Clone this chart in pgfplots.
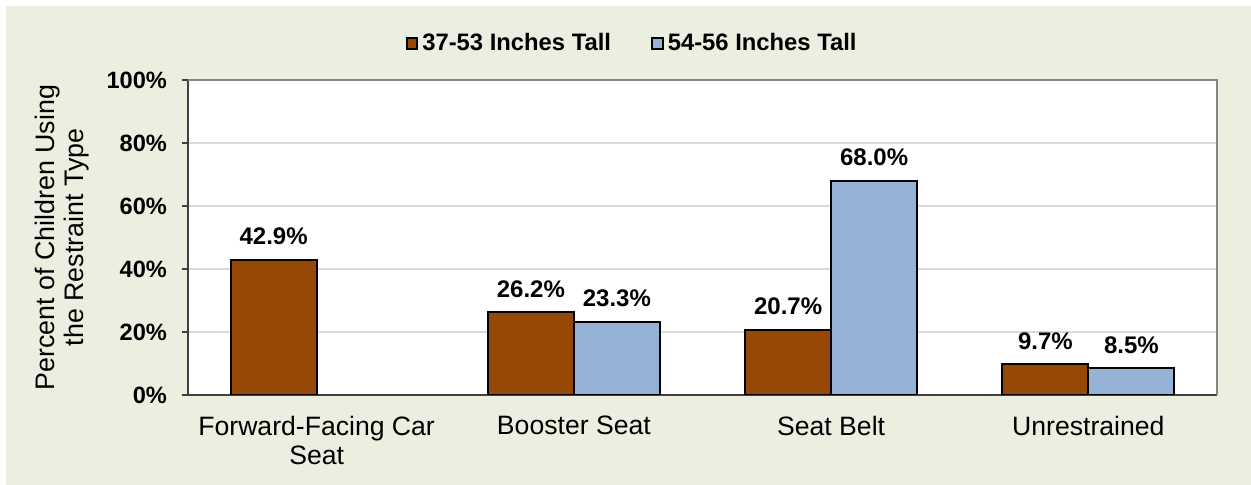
\documentclass[border=0pt]{standalone}
\usepackage{pgfplots}
\pgfplotsset{compat=1.18}
\usepackage{fontspec}
\setmainfont{Liberation Sans}
\definecolor{bgc}{HTML}{ECEEDF}
\definecolor{brownbar}{HTML}{974706}
\definecolor{bluebar}{HTML}{95B3D7}
\definecolor{axdark}{HTML}{404040}
\definecolor{axgray}{HTML}{858585}
\definecolor{gridc}{HTML}{D9D9D9}
\begin{document}
\begin{tikzpicture}
\fill[bgc] (3pt,0pt) rectangle (625.5pt,239.5pt);
\begin{axis}[
  at={(94pt,45pt)}, anchor=south west,
  scale only axis,
  width=514.5pt, height=157.5pt,
  xmin=-0.5, xmax=3.5,
  ymin=0, ymax=100,
  axis background/.style={fill=white},
  axis x line*=bottom, axis y line*=left,
  axis line style={axdark, line width=1pt},
  every outer x axis line/.append style={-},
  every outer y axis line/.append style={-},
  ybar=0pt, bar width=43pt,
  ytick={0,20,40,60,80,100},
  yticklabel={\pgfmathprintnumber{\tick}\%},
  yticklabel style={font=\fontsize{11.8}{13}\selectfont\bfseries, xshift=-4pt},
  /pgf/number format/assume math mode=true,
  tick align=outside,
  major tick length=3pt, minor tick length=3pt,
  tick style={axdark, line width=0.8pt},
  xtick={0,1,2,3},
  x tick style={draw=none},
  minor xtick={-0.5,0.5,1.5,2.5,3.5},
  minor x tick style={axdark, line width=0.8pt},
  xticklabels={{Forward-Facing Car\\Seat},{Booster Seat},{Seat Belt},{Unrestrained}},
  xticklabel style={align=center, font=\fontsize{13.3}{14.5}\selectfont, yshift=-4pt},
  ymajorgrids, grid style={gridc, line width=0.8pt},
  ylabel={Percent of Children Using\\the Restraint Type},
  ylabel style={align=center, font=\fontsize{13.4}{14.5}\selectfont, at={(axis description cs:-0.1224,0.5)}, anchor=center},
  nodes near coords={\pgfmathprintnumber[fixed,fixed zerofill,precision=1]{\pgfplotspointmeta}\%},
  nodes near coords style={font=\fontsize{12}{14}\selectfont\bfseries, anchor=base, inner sep=0pt, yshift=7.5pt},
  legend style={at={(axis description cs:0.4325,1.117)}, anchor=center, draw=none, fill=none,
    font=\fontsize{11.9}{14}\selectfont\bfseries, legend columns=2,
    /tikz/every even column/.append style={column sep=18pt}},
  legend image code/.code={\draw[#1, draw=black, line width=1pt] (0pt,-2.7pt) rectangle (5.4pt,2.7pt);},
  legend cell align=left,
  after end axis/.code={\draw[axgray, line width=1pt] (rel axis cs:0,1) -- (rel axis cs:1,1) -- (rel axis cs:1,0);},
]
\addplot[fill=brownbar, draw=black, line width=1pt] coordinates {(0,42.9) (1,26.2) (2,20.7) (3,9.7)};
\addlegendentry{37-53 Inches Tall}
\addplot[fill=bluebar, draw=black, line width=1pt] coordinates {(1,23.3) (2,68.0) (3,8.5)};
\addlegendentry{54-56 Inches Tall}
\end{axis}
\pgfresetboundingbox
\useasboundingbox (0,0) rectangle (625.5pt,242.5pt);
\end{tikzpicture}
\end{document}
